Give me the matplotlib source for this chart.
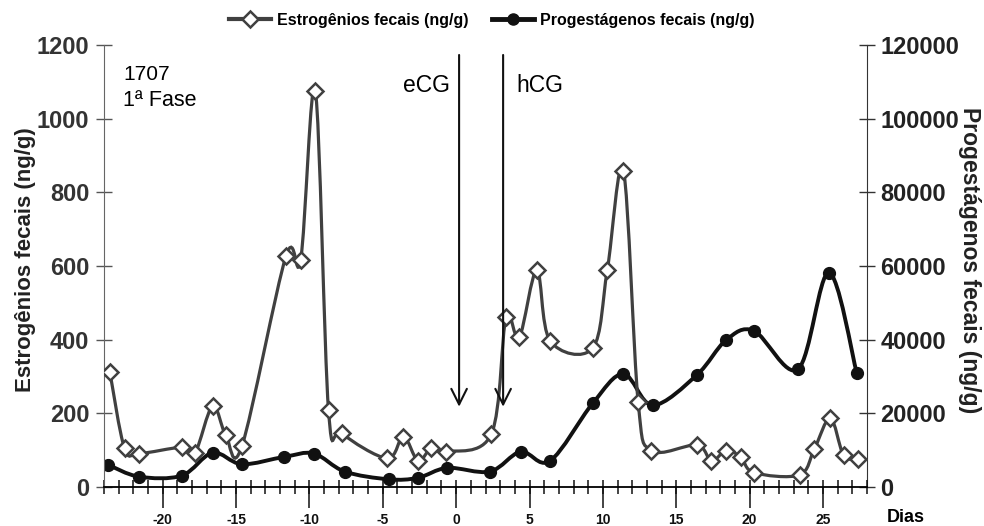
import matplotlib
matplotlib.use("Agg")
import matplotlib.pyplot as plt
from matplotlib.path import Path
from matplotlib.patches import PathPatch
from matplotlib.lines import Line2D
from matplotlib.ticker import MultipleLocator

plt.rcParams["font.family"] = ["Liberation Sans", "DejaVu Sans"]
plt.rcParams["axes.unicode_minus"] = False

# dias relativos e concentracoes
est_dias = [-23.6, -22.6, -21.6, -18.7, -17.8, -16.6, -15.7, -14.6, -11.6, -10.6,
            -9.6, -8.7, -7.8, -4.7, -3.6, -2.6, -1.7, -0.7, 2.4, 3.4,
            4.3, 5.5, 6.4, 9.3, 10.3, 11.4, 12.4, 13.3, 16.4, 17.4,
            18.4, 19.4, 20.3, 23.4, 24.4, 25.5, 26.4, 27.4]
est_vals = [312, 105, 91, 108, 93, 220, 141, 111, 627, 616,
            1076, 209, 146, 78, 137, 71, 105, 96, 144, 461,
            406, 589, 397, 377, 589, 859, 232, 99, 114, 71,
            99, 81, 39, 33, 102, 187, 87, 75]

prog_dias = [-23.7, -21.6, -18.7, -16.6, -14.6, -11.7, -9.7, -7.6, -4.6, -2.6,
             -0.6, 2.3, 4.4, 6.4, 9.3, 11.4, 13.4, 16.4, 18.4, 20.3,
             23.3, 25.4, 27.3]
prog_vals = [6000, 2800, 3100, 9300, 6200, 8200, 9100, 4200, 2100, 2500,
             5200, 4200, 9600, 7100, 22700, 30700, 22200, 30400, 39900, 42400,
             32000, 58200, 31000]

x_ticks = [-20, -15, -10, -5, 0, 5, 10, 15, 20, 25]
left_ticks = [0, 200, 400, 600, 800, 1000, 1200]
right_ticks = [0, 20000, 40000, 60000, 80000, 100000, 120000]

eventos = [("eCG", 0.2), ("hCG", 3.2)]


def curva_suave(xs, ys):
    # linha suavizada tipo Excel (Catmull-Rom -> Bezier)
    n = len(xs)
    verts = [(xs[0], ys[0])]
    codes = [Path.MOVETO]
    for i in range(n - 1):
        x0, y0 = (xs[i - 1], ys[i - 1]) if i > 0 else (xs[i], ys[i])
        x1, y1 = xs[i], ys[i]
        x2, y2 = xs[i + 1], ys[i + 1]
        x3, y3 = (xs[i + 2], ys[i + 2]) if i + 2 < n else (x2, y2)
        c1 = (x1 + (x2 - x0) / 6, y1 + (y2 - y0) / 6)
        c2 = (x2 - (x3 - x1) / 6, y2 - (y3 - y1) / 6)
        verts += [c1, c2, (x2, y2)]
        codes += [Path.CURVE4] * 3
    return Path(verts, codes)


fig = plt.figure(figsize=(9.84, 5.26), dpi=100)
ax = fig.add_axes([0.1057, 0.0741, 0.7754, 0.8403])
ax2 = ax.twinx()
ax.set_zorder(ax2.get_zorder() + 1)
ax.patch.set_visible(False)

est_cor = "#404040"
ax2.add_patch(PathPatch(curva_suave(prog_dias, prog_vals), fill=False,
                        edgecolor="#111111", lw=2.8, zorder=2))
ax2.plot(prog_dias, prog_vals, "o", color="#111111", ms=8.5, zorder=3)

ax.add_patch(PathPatch(curva_suave(est_dias, est_vals), fill=False,
                       edgecolor=est_cor, lw=2.3, zorder=2))
ax.plot(est_dias, est_vals, "D", mfc="white", mec=est_cor, mew=1.8, ms=8.5, zorder=3)

ax.set_xlim(-24, 28)
ax.set_ylim(0, 1200)
ax2.set_ylim(0, 120000)

ax.set_xticks(x_ticks)
ax.xaxis.set_minor_locator(MultipleLocator(1))
ax.xaxis.remove_overlapping_locs = False
ax.tick_params(axis="x", which="major", direction="out", length=15, width=1.1,
               labelsize=10, pad=4, colors="#111111")
ax.tick_params(axis="x", which="minor", direction="inout", length=10, width=1.1,
               colors="#111111")
for lab in ax.get_xticklabels():
    lab.set_fontweight("bold")

ax.set_yticks(left_ticks)
ax.tick_params(axis="y", direction="inout", length=11, width=1.0, labelsize=17,
               pad=5, colors="#555555", labelcolor="#333333")
for lab in ax.get_yticklabels():
    lab.set_fontweight("bold")
ax2.set_yticks(right_ticks)
ax2.tick_params(axis="y", direction="inout", length=11, width=1.0, labelsize=17,
                pad=4, colors="#333333", labelcolor="#222222")
for lab in ax2.get_yticklabels():
    lab.set_fontweight("bold")

for a in (ax, ax2):
    a.spines["top"].set_visible(False)
ax.spines["right"].set_visible(False)
ax2.spines["left"].set_visible(False)
ax2.spines["bottom"].set_visible(False)
ax.spines["left"].set_color("#666666")
ax2.spines["right"].set_color("#333333")
ax.spines["bottom"].set_linewidth(1.3)

ax.set_ylabel("Estrogênios fecais (ng/g)", fontsize=16, fontweight="bold",
              color="#222222")
ax2.set_ylabel("Progestágenos fecais (ng/g)", fontsize=16.5, fontweight="bold",
               color="#222222", rotation=270)
ax.yaxis.set_label_coords(-0.089, 0.514)
ax2.yaxis.set_label_coords(1.149, 0.514)

for nome, x in eventos:
    ax.annotate("", xy=(x, 218), xytext=(x, 1173),
                arrowprops=dict(arrowstyle="->", lw=1.5, color="#111111",
                                mutation_scale=28, shrinkA=0, shrinkB=0))
ax.text(-0.4, 1090, "eCG", fontsize=16.5, ha="right", va="center")
ax.text(4.1, 1090, "hCG", fontsize=16.5, ha="left", va="center")

ax.text(-22.7, 1120, "1707", fontsize=15, ha="left", va="center")
ax.text(-22.7, 1050, "1ª Fase", fontsize=15.5, ha="left", va="center")

fig.text(906 / 984, 1 - 517 / 526, "Dias", fontsize=13, fontweight="bold",
         ha="center", va="center")

h1 = Line2D([], [], color=est_cor, lw=3, marker="D", mfc="white", mec=est_cor,
            mew=1.8, ms=8)
h2 = Line2D([], [], color="#111111", lw=3.5, marker="o", ms=8)
fig.legend([h1, h2], ["Estrogênios fecais (ng/g)", "Progestágenos fecais (ng/g)"],
           loc="center", bbox_to_anchor=(0.5, 1 - 20 / 526), ncol=2, frameon=False,
           prop={"weight": "bold", "size": 11.5}, handlelength=2.6,
           columnspacing=1.5, handletextpad=0.4)

fig.savefig("out.png", dpi=100)
